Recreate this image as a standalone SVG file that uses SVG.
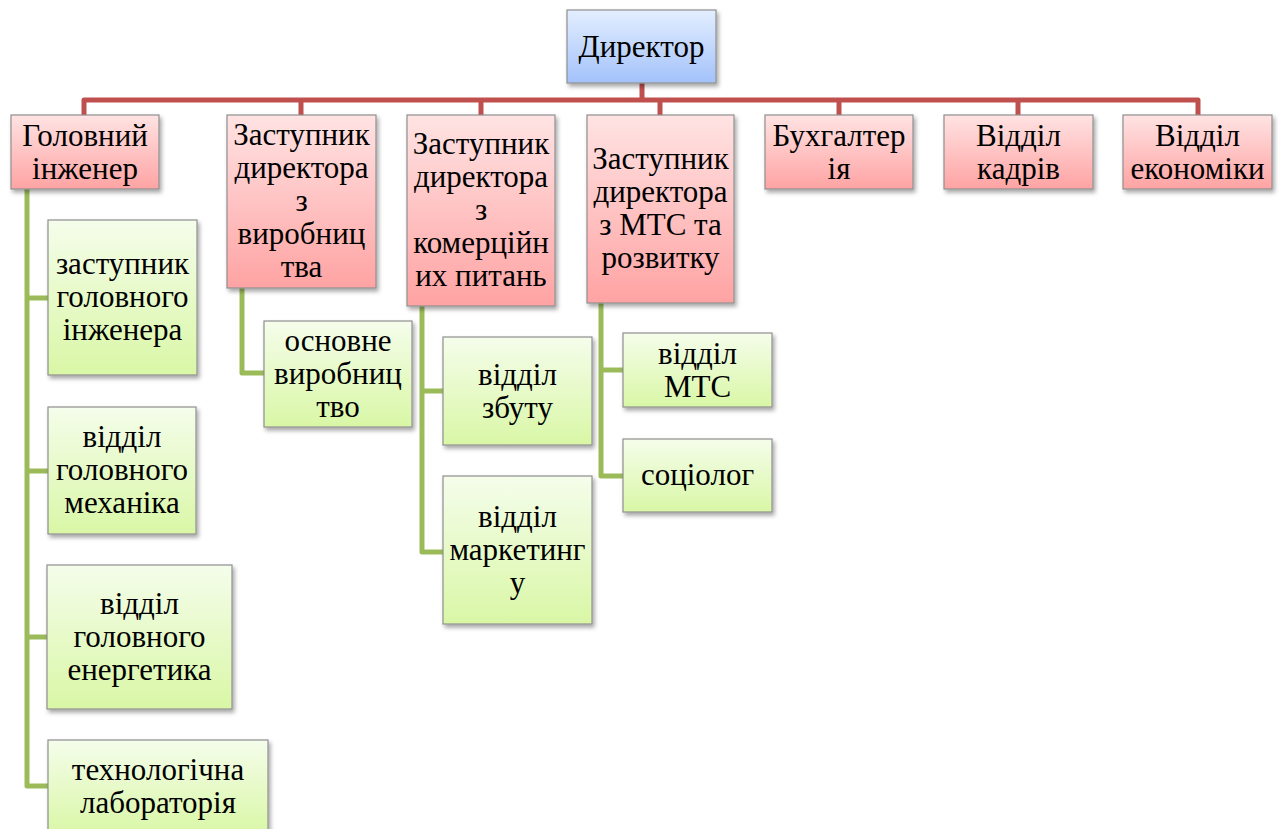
<svg xmlns="http://www.w3.org/2000/svg" width="1280" height="829" viewBox="0 0 1280 829">
<defs>
<linearGradient id="gRed" x1="0" y1="0" x2="0" y2="1"><stop offset="0" stop-color="#FFE3E3"/><stop offset="1" stop-color="#FFA3A3"/></linearGradient>
<linearGradient id="gBlue" x1="0" y1="0" x2="0" y2="1"><stop offset="0" stop-color="#E3EEFF"/><stop offset="1" stop-color="#A3C2FA"/></linearGradient>
<linearGradient id="gGreen" x1="0" y1="0" x2="0" y2="1"><stop offset="0" stop-color="#F5FDEB"/><stop offset="1" stop-color="#D9F7A6"/></linearGradient>
<filter id="sh" x="-10%" y="-10%" width="125%" height="125%"><feDropShadow dx="2" dy="3" stdDeviation="2" flood-color="#000" flood-opacity="0.35"/></filter>
</defs>
<style>
.box{stroke:#8f8f8f;stroke-width:1.2;filter:url(#sh)}
.red{fill:url(#gRed)}
.blue{fill:url(#gBlue)}
.green{fill:url(#gGreen)}
text{font-family:'Liberation Serif','Times New Roman',serif;font-size:31px;fill:#000;text-anchor:middle}
.rc{fill:none;stroke:#C0504D;stroke-width:5;stroke-linejoin:round}
.gc{fill:none;stroke:#9BBB59;stroke-width:5;stroke-linejoin:round}
</style>
<rect width="1280" height="829" fill="#fff"/>
<g id="connectors">
<path class="rc" d="M642 83V100M84 116V100H1198V116M301 100V116M481 100V116M660 100V116M839 100V116M1018 100V116"/>
<path class="gc" d="M27 189V786H48M27 298H48M27 471H48M27 637H47"/>
<path class="gc" d="M242 288V373H264"/>
<path class="gc" d="M422 306V552H443M422 391H443"/>
<path class="gc" d="M601 303V476H623M601 370H623"/>
</g>
<g id="n-director"><rect class="box blue" x="567" y="10" width="149" height="73"/><text x="641.5" y="57">Директор</text></g>
<g id="n-chief-eng"><rect class="box red" x="11" y="115" width="148" height="74"/><text x="85" y="146">Головний</text><text x="85" y="179">інженер</text></g>
<g id="n-dep-prod"><rect class="box red" x="227" y="115" width="149" height="173"/><text x="301.5" y="145">Заступник</text><text x="301.5" y="178">директора</text><text x="301.5" y="211">з</text><text x="301.5" y="244">виробниц</text><text x="301.5" y="277">тва</text></g>
<g id="n-dep-com"><rect class="box red" x="407" y="115" width="148" height="191"/><text x="481" y="154">Заступник</text><text x="481" y="187">директора</text><text x="481" y="220">з</text><text x="481" y="253">комерційн</text><text x="481" y="286">их питань</text></g>
<g id="n-dep-mts"><rect class="box red" x="587" y="115" width="147" height="188"/><text x="660.5" y="169">Заступник</text><text x="660.5" y="202">директора</text><text x="660.5" y="235">з МТС та</text><text x="660.5" y="268">розвитку</text></g>
<g id="n-account"><rect class="box red" x="765" y="115" width="148" height="74"/><text x="839" y="146">Бухгалтер</text><text x="839" y="179">ія</text></g>
<g id="n-hr"><rect class="box red" x="944" y="115" width="149" height="74"/><text x="1018.5" y="146">Відділ</text><text x="1018.5" y="179">кадрів</text></g>
<g id="n-econ"><rect class="box red" x="1123" y="115" width="149" height="74"/><text x="1197.5" y="146">Відділ</text><text x="1197.5" y="179">економіки</text></g>
<g id="n-dep-chief-eng"><rect class="box green" x="48" y="220" width="149" height="155"/><text x="122.5" y="274">заступник</text><text x="122.5" y="307">головного</text><text x="122.5" y="340">інженера</text></g>
<g id="n-mech"><rect class="box green" x="48" y="407" width="148" height="127"/><text x="122" y="447">відділ</text><text x="122" y="480">головного</text><text x="122" y="513">механіка</text></g>
<g id="n-energ"><rect class="box green" x="47" y="565" width="185" height="144"/><text x="139.5" y="614">відділ</text><text x="139.5" y="647">головного</text><text x="139.5" y="680">енергетика</text></g>
<g id="n-lab"><rect class="box green" x="48" y="740" width="220" height="95"/><text x="158" y="780">технологічна</text><text x="158" y="813">лабораторія</text></g>
<g id="n-main-prod"><rect class="box green" x="264" y="321" width="148" height="106"/><text x="338" y="351">основне</text><text x="338" y="384">виробниц</text><text x="338" y="417">тво</text></g>
<g id="n-sales"><rect class="box green" x="443" y="337" width="149" height="108"/><text x="517.5" y="385">відділ</text><text x="517.5" y="418">збуту</text></g>
<g id="n-marketing"><rect class="box green" x="443" y="476" width="149" height="148"/><text x="517.5" y="527">відділ</text><text x="517.5" y="560">маркетинг</text><text x="517.5" y="593">у</text></g>
<g id="n-mts"><rect class="box green" x="623" y="333" width="149" height="74"/><text x="697.5" y="364">відділ</text><text x="697.5" y="397">МТС</text></g>
<g id="n-soc"><rect class="box green" x="623" y="439" width="149" height="73"/><text x="697.5" y="485">соціолог</text></g>
</svg>
